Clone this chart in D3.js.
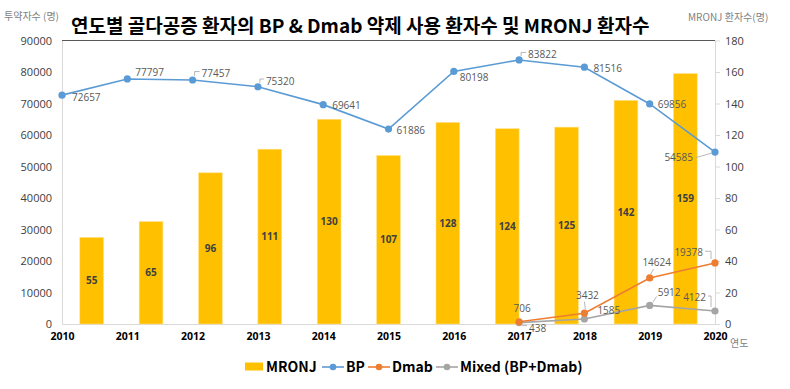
<!DOCTYPE html>
<html>
<head>
<meta charset="utf-8">
<script src="https://cdn.jsdelivr.net/npm/d3@7"></script>
<style>
  body { margin: 0; background: #fff; }
  svg { display: block; font-family: "Noto Sans CJK KR", "Noto Sans", sans-serif; }
</style>
</head>
<body>
<svg id="chart" width="790" height="389"></svg>
<script>
const years = [2010, 2011, 2012, 2013, 2014, 2015, 2016, 2017, 2018, 2019, 2020];
const mronj = [55, 65, 96, 111, 130, 107, 128, 124, 125, 142, 159];
const bp = [72657, 77797, 77457, 75320, 69641, 61886, 80198, 83822, 81516, 69856, 54585];
const dmabYears = [2017, 2018, 2019, 2020];
const dmab = [706, 3432, 14624, 19378];
const mixed = [438, 1585, 5912, 4122];
const leftTicks = [0, 10000, 20000, 30000, 40000, 50000, 60000, 70000, 80000, 90000];
const rightTicks = [0, 20, 40, 60, 80, 100, 120, 140, 160, 180];

// label placement (offset from the point) and optional leader
const bpLabelPos = [
  { dx: 10, dy: 2 }, { dx: 8, dy: -6 }, { dx: 9, dy: -6.5, lead: "up" }, { dx: 8, dy: -5.7, lead: "up" },
  { dx: 9, dy: 0.5 }, { dx: 8, dy: 1 }, { dx: 6, dy: 6 }, { dx: 9, dy: -5.5, lead: "up" },
  { dx: 9, dy: 1 }, { dx: 8, dy: 1 }, { dx: -22, dy: 5.5, anchor: "end", lead: "left" }
];
const dmabLabelPos = [
  { dx: 3, dy: -13, anchor: "middle" }, { dx: 3, dy: -17.5, anchor: "middle", lead: "down" },
  { dx: 7, dy: -15, anchor: "middle", lead: "down" }, { dx: -12, dy: -10.7, anchor: "end", lead: "right" }
];
const mixedLabelPos = [
  { dx: 10, dy: 6, lead: "flat" }, { dx: 13, dy: -9 },
  { dx: 8, dy: -13, lead: "diag" }, { dx: -9, dy: -14, anchor: "end", lead: "right" }
];

const plot = { left: 62, right: 715, top: 40.5, bottom: 324 };
const svg = d3.select("#chart");

const x = d3.scalePoint().domain(years).range([plot.left, plot.right]);
const xBar = d3.scaleBand().domain(years).range([plot.left, plot.right])
  .paddingInner(0.6).paddingOuter(0.3);
const yLeft = d3.scaleLinear().domain([0, 90000]).range([plot.bottom, plot.top]);
const yRight = d3.scaleLinear().domain([0, 180]).range([plot.bottom, plot.top]);

// title
svg.append("text")
  .attr("x", 71).attr("y", 33)
  .attr("font-size", "19px").attr("font-weight", "bold").attr("fill", "#000")
  .text("연도별 골다공증 환자의 BP & Dmab 약제 사용 환자수 및 MRONJ 환자수");

svg.append("text")
  .attr("x", 4).attr("y", 20)
  .attr("font-size", "10px").attr("fill", "#7f7f7f")
  .text("투약자수 (명)");

svg.append("text")
  .attr("x", 688).attr("y", 21)
  .attr("font-size", "10px").attr("fill", "#7f7f7f")
  .text("MRONJ 환자수(명)");

// axes
const leftAxis = svg.append("g")
  .attr("transform", "translate(" + plot.left + ",0)")
  .call(d3.axisLeft(yLeft).tickValues(leftTicks).tickFormat(d3.format("d")).tickSize(0).tickPadding(10));
leftAxis.select(".domain").attr("stroke", "#d9d9d9");
leftAxis.selectAll("text").attr("font-size", "11px").attr("fill", "#404040")
  .attr("font-family", "'Open Sans', sans-serif");

const rightAxis = svg.append("g")
  .attr("transform", "translate(" + plot.right + ",0)")
  .call(d3.axisRight(yRight).tickValues(rightTicks).tickSize(5).tickSizeOuter(0).tickPadding(5));
rightAxis.select(".domain").attr("stroke", "#d9d9d9");
rightAxis.selectAll("line").attr("stroke", "#d9d9d9");
rightAxis.selectAll("text").attr("font-size", "11px").attr("fill", "#404040")
  .attr("font-family", "'Open Sans', sans-serif");

const bottomAxis = svg.append("g")
  .attr("transform", "translate(0," + plot.bottom + ")")
  .call(d3.axisBottom(x).tickSize(0).tickPadding(9));
bottomAxis.select(".domain").attr("stroke", "#d9d9d9");
bottomAxis.selectAll("text").attr("font-size", "10.5px").attr("font-weight", "bold")
  .attr("fill", "#000").attr("font-family", "'Open Sans', sans-serif");

svg.append("line")
  .attr("x1", plot.left).attr("x2", plot.right)
  .attr("y1", plot.top).attr("y2", plot.top)
  .attr("stroke", "#595959").attr("stroke-width", 1.2);

svg.append("text")
  .attr("x", 730).attr("y", 347)
  .attr("font-size", "10px").attr("fill", "#7f7f7f")
  .text("연도");

// bars
svg.append("g").selectAll("rect")
  .data(years)
  .enter().append("rect")
  .attr("x", (d) => xBar(d))
  .attr("width", xBar.bandwidth())
  .attr("y", (d, i) => yRight(mronj[i]))
  .attr("height", (d, i) => plot.bottom - yRight(mronj[i]))
  .attr("fill", "#ffc000")
  .attr("stroke", "#ffe28a").attr("stroke-width", 0.6);

svg.append("g").selectAll("text")
  .data(years)
  .enter().append("text")
  .attr("x", (d) => xBar(d) + xBar.bandwidth() / 2)
  .attr("y", (d, i) => (yRight(mronj[i]) + plot.bottom) / 2)
  .attr("dy", "0.35em")
  .attr("text-anchor", "middle")
  .attr("font-size", "10px").attr("font-weight", "bold").attr("fill", "#404040")
  .attr("font-family", "'Open Sans', sans-serif")
  .text((d, i) => mronj[i]);

// lines
function drawSeries(xs, values, color, labelPos) {
  const pts = xs.map((yr, i) => [x(yr), yLeft(values[i])]);
  svg.append("path")
    .attr("d", d3.line()(pts))
    .attr("fill", "none").attr("stroke", color).attr("stroke-width", 1.6);
  svg.append("g").selectAll("circle")
    .data(pts)
    .enter().append("circle")
    .attr("cx", (d) => d[0]).attr("cy", (d) => d[1])
    .attr("r", 3.6).attr("fill", color);

  const g = svg.append("g");
  pts.forEach((p, i) => {
    const pos = labelPos[i];
    const lx = p[0] + pos.dx, ly = p[1] + pos.dy;
    g.append("text")
      .attr("x", lx).attr("y", ly).attr("dy", "0.35em")
      .attr("text-anchor", pos.anchor || "start")
      .attr("font-size", "10px").attr("fill", "#595959")
      .attr("font-family", "'Open Sans', sans-serif")
      .text(values[i]);
    let path = null;
    if (pos.lead === "up") path = "M" + (p[0] + 2) + "," + (p[1] - 4) + "V" + (ly - 2) + "H" + (lx - 2);
    if (pos.lead === "left") path = "M" + (lx + 3) + "," + ly + "L" + (p[0] - 3) + "," + (p[1] + 1);
    if (pos.lead === "down") path = "M" + (p[0] + pos.dx - 3) + "," + (ly + 6) + "L" + (p[0] + 1) + "," + (p[1] - 4);
    if (pos.lead === "right") path = "M" + (lx + 2) + "," + (ly - 1) + "H" + (p[0] - 4) + "V" + (p[1] - 4);
    if (pos.lead === "flat") path = "M" + (p[0] + 3) + "," + (p[1] + 3) + "H" + (lx - 2);
    if (pos.lead === "diag") path = "M" + (p[0] + 3) + "," + (p[1] - 3) + "L" + (lx - 1) + "," + (ly + 4);
    if (path) g.append("path").attr("d", path).attr("fill", "none")
      .attr("stroke", "#a6a6a6").attr("stroke-width", 0.8);
  });
}

drawSeries(years, bp, "#5b9bd5", bpLabelPos);
drawSeries(dmabYears, mixed, "#a5a5a5", mixedLabelPos);
drawSeries(dmabYears, dmab, "#ed7d31", dmabLabelPos);

// legend
const legend = svg.append("g").attr("font-size", "14px").attr("font-weight", "bold");
const legendY = 367;
legend.append("rect").attr("x", 245).attr("y", legendY - 4.5).attr("width", 18).attr("height", 8).attr("fill", "#ffc000");
legend.append("text").attr("x", 266).attr("y", legendY).attr("dy", "0.35em").text("MRONJ");
const lineItems = [
  { x: 322, color: "#5b9bd5", label: "BP" },
  { x: 368, color: "#ed7d31", label: "Dmab" },
  { x: 436, color: "#a5a5a5", label: "Mixed (BP+Dmab)" }
];
lineItems.forEach((it) => {
  legend.append("line").attr("x1", it.x).attr("x2", it.x + 22)
    .attr("y1", legendY).attr("y2", legendY).attr("stroke", it.color).attr("stroke-width", 1.6);
  legend.append("circle").attr("cx", it.x + 11).attr("cy", legendY).attr("r", 3.3).attr("fill", it.color);
  legend.append("text").attr("x", it.x + 24).attr("y", legendY).attr("dy", "0.35em").text(it.label);
});
</script>
</body>
</html>
